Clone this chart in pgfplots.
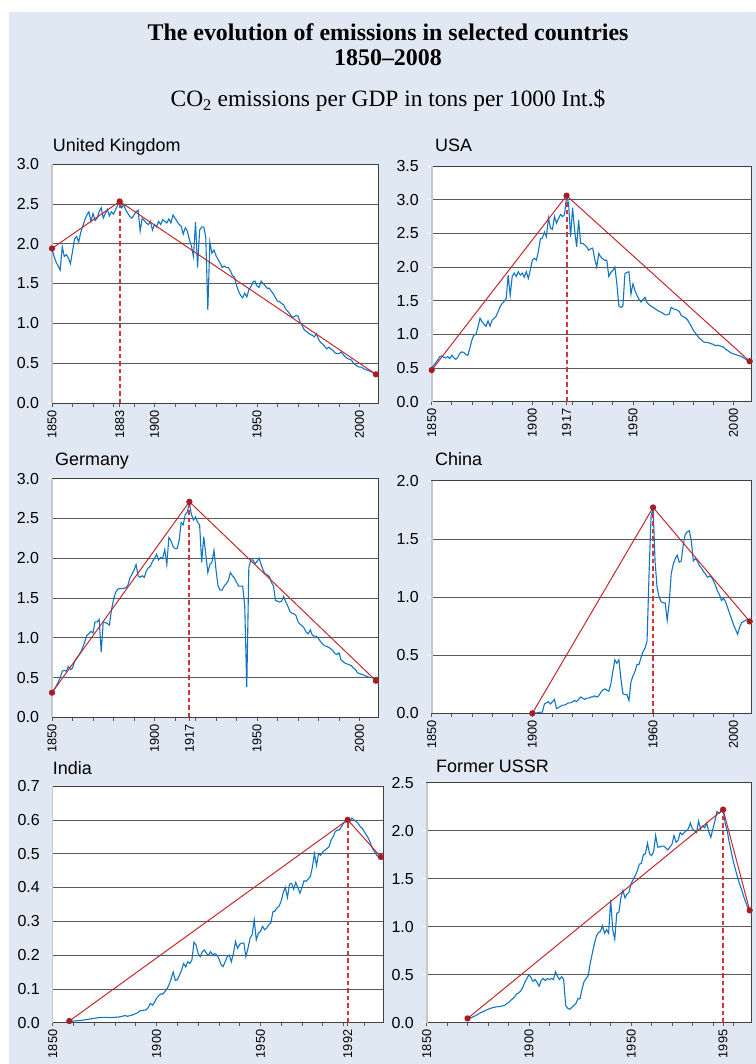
\documentclass[border=0pt]{standalone}
\usepackage{fontspec}
\setmainfont{Liberation Sans}
\newfontfamily\seriffont{Liberation Serif}
\usepackage{pgfplots}
\pgfplotsset{compat=1.18}
\definecolor{bg}{RGB}{224,232,244}
\definecolor{lineblue}{RGB}{16,117,195}
\definecolor{linered}{RGB}{196,40,46}
\definecolor{dotred}{RGB}{165,30,35}
\definecolor{dashred}{RGB}{214,52,58}
\definecolor{axisgray}{RGB}{200,200,200}
\pgfplotsset{
  panel/.style={
    scale only axis,
    xmin=1850, xmax=2009, ymin=0,
    axis background/.style={fill=white},
    axis line style={draw=black!75, line width=0.7pt},
    tick align=outside,
    xtick pos=bottom, ytick pos=left,
    major tick length=3.5bp, minor tick length=3.5bp,
    xtick style={draw=black!65, line width=0.7pt},
    ytick style={draw=white, line width=1pt},
    minor xtick={1850,1860,...,2000},
    ymajorgrids,
    major grid style={draw=black!65, line width=0.6pt},
    /pgf/number format/assume math mode=true,
    xticklabel style={rotate=90, anchor=east, font=\fontsize{12.8}{13}\selectfont},
    yticklabel style={xshift=-6bp, font=\fontsize{16}{16}\selectfont, /pgf/number format/.cd, fixed, fixed zerofill, precision=1},
    clip=false,
  },
  blueline/.style={draw=lineblue, line width=1.1pt, no markers},
  redline/.style={draw=linered, line width=1.0pt, mark=*, mark size=2.6bp, mark options={draw=dotred, fill=dotred}},
}
\newcommand{\leftgray}{\draw[draw=axisgray, line width=1.6pt] (rel axis cs:0,0) -- (rel axis cs:0,1);}
\newcommand{\peakline}[2]{\addplot[color=dashred, solid, line width=2bp, dash pattern=on 4.5bp off 3bp, mark=none] coordinates {(#1,0) (#1,#2)};}
\begin{document}
\begin{tikzpicture}
\fill[white] (0,0) rectangle (756bp,-1064bp);
\fill[bg] (9bp,-12bp) rectangle (756bp,-1064bp);
\node[anchor=base, font=\seriffont\bfseries\fontsize{24}{26}\selectfont] at (388bp,-40bp) {The evolution of emissions in selected countries};
\node[anchor=base, font=\seriffont\bfseries\fontsize{24}{26}\selectfont] at (388bp,-65.5bp) {1850–2008};
\node[anchor=base, font=\seriffont\fontsize{23.5}{25}\selectfont] at (388bp,-106.7bp) {CO\textsubscript{2} emissions per GDP in tons per 1000 Int.\$};
\node[anchor=base west, inner sep=0pt, font=\fontsize{18}{19}\selectfont] at (52.7bp,-151.7bp) {United Kingdom};
\node[anchor=base west, inner sep=0pt, font=\fontsize{18}{19}\selectfont] at (435bp,-151.7bp) {USA};
\node[anchor=base west, inner sep=0pt, font=\fontsize{18}{19}\selectfont] at (55bp,-465bp) {Germany};
\node[anchor=base west, inner sep=0pt, font=\fontsize{18}{19}\selectfont] at (435bp,-465bp) {China};
\node[anchor=base west, inner sep=0pt, font=\fontsize{18}{19}\selectfont] at (52.7bp,-774bp) {India};
\node[anchor=base west, inner sep=0pt, font=\fontsize{18}{19}\selectfont] at (436bp,-772bp) {Former USSR};

% United Kingdom
\begin{axis}[panel, at={(52bp,-403bp)}, anchor=south west, width=326bp, height=239bp,
  ymax=3.0, ytick={0,0.5,...,3.0},
  xtick={1850,1883,1900,1950,2000}, xticklabels={1850,1883,1900,1950,2000}]
\leftgray
\addplot[blueline] coordinates {(1850,1.94)(1851,1.84)(1852,1.77)(1853,1.72)(1854,1.67)(1855,1.96)(1856,1.84)(1857,1.86)(1858,1.82)(1859,1.75)(1860,1.90)(1861,2.06)(1862,2.09)(1863,2.02)(1864,2.14)(1865,2.22)(1866,2.30)(1867,2.36)(1868,2.40)(1869,2.28)(1870,2.38)(1871,2.29)(1872,2.32)(1873,2.40)(1874,2.45)(1875,2.32)(1876,2.38)(1877,2.43)(1878,2.35)(1879,2.40)(1880,2.37)(1881,2.43)(1882,2.48)(1883,2.54)(1884,2.45)(1885,2.49)(1886,2.42)(1887,2.38)(1888,2.34)(1889,2.32)(1890,2.36)(1891,2.40)(1892,2.42)(1893,2.16)(1894,2.32)(1895,2.29)(1896,2.26)(1897,2.24)(1898,2.28)(1899,2.17)(1900,2.24)(1901,2.21)(1902,2.28)(1903,2.24)(1904,2.30)(1905,2.28)(1906,2.26)(1907,2.31)(1908,2.26)(1909,2.36)(1910,2.32)(1911,2.28)(1912,2.24)(1913,2.22)(1914,2.12)(1915,2.20)(1916,2.16)(1917,2.05)(1918,1.97)(1919,1.84)(1920,2.27)(1921,1.70)(1922,2.17)(1923,2.21)(1924,2.21)(1925,2.08)(1926,1.17)(1927,2.02)(1928,1.88)(1929,1.92)(1930,1.85)(1931,1.80)(1932,1.76)(1933,1.70)(1934,1.72)(1935,1.70)(1936,1.70)(1937,1.66)(1938,1.60)(1939,1.58)(1940,1.48)(1941,1.40)(1942,1.35)(1943,1.32)(1944,1.38)(1945,1.33)(1946,1.42)(1947,1.46)(1948,1.52)(1949,1.53)(1950,1.47)(1951,1.45)(1952,1.53)(1953,1.50)(1954,1.47)(1955,1.44)(1956,1.44)(1957,1.40)(1958,1.37)(1959,1.32)(1960,1.28)(1961,1.27)(1962,1.25)(1963,1.23)(1964,1.18)(1965,1.15)(1966,1.12)(1967,1.08)(1968,1.08)(1969,1.10)(1970,1.09)(1971,1.02)(1972,0.97)(1973,0.92)(1974,0.90)(1975,0.88)(1976,0.86)(1977,0.85)(1978,0.83)(1979,0.87)(1980,0.80)(1981,0.76)(1982,0.74)(1983,0.71)(1984,0.68)(1985,0.70)(1986,0.68)(1987,0.66)(1988,0.63)(1989,0.62)(1990,0.62)(1991,0.64)(1992,0.61)(1993,0.58)(1994,0.56)(1995,0.55)(1996,0.54)(1997,0.50)(1998,0.48)(1999,0.46)(2000,0.45)(2001,0.45)(2002,0.43)(2003,0.42)(2004,0.41)(2005,0.40)(2006,0.39)(2007,0.37)(2008,0.36)};
\peakline{1883}{2.53}
\addplot[redline] coordinates {(1850,1.94) (1883,2.53) (2008,0.36)};
\end{axis}

% USA
\begin{axis}[panel, at={(431.7bp,-401.7bp)}, anchor=south west, width=320bp, height=235.7bp,
  ymax=3.5, ytick={0,0.5,...,3.5},
  xtick={1850,1900,1917,1950,2000}, xticklabels={1850,1900,1917,1950,2000}]
\leftgray
\addplot[blueline] coordinates {(1850,0.50)(1851,0.54)(1852,0.58)(1853,0.62)(1854,0.67)(1855,0.68)(1856,0.66)(1857,0.65)(1858,0.67)(1859,0.64)(1860,0.69)(1861,0.65)(1862,0.63)(1863,0.66)(1864,0.72)(1865,0.74)(1866,0.73)(1867,0.70)(1868,0.69)(1869,0.80)(1870,0.92)(1871,0.99)(1872,1.00)(1873,1.11)(1874,1.24)(1875,1.19)(1876,1.15)(1877,1.12)(1878,1.20)(1879,1.12)(1880,1.21)(1881,1.24)(1882,1.27)(1883,1.34)(1884,1.41)(1885,1.46)(1886,1.49)(1887,1.53)(1888,1.88)(1889,1.58)(1890,1.86)(1891,1.91)(1892,1.86)(1893,1.93)(1894,1.88)(1895,1.91)(1896,1.85)(1897,1.93)(1898,1.83)(1899,1.96)(1900,2.10)(1901,2.13)(1902,2.10)(1903,2.23)(1904,2.42)(1905,2.43)(1906,2.52)(1907,2.45)(1908,2.73)(1909,2.58)(1910,2.56)(1911,2.75)(1912,2.65)(1913,2.72)(1914,2.78)(1915,2.75)(1916,2.78)(1917,3.05)(1918,2.95)(1919,2.45)(1920,2.88)(1921,2.55)(1922,2.30)(1923,2.70)(1924,2.35)(1925,2.35)(1926,2.33)(1927,2.30)(1928,2.25)(1929,2.27)(1930,2.28)(1931,2.12)(1932,2.00)(1933,2.20)(1934,2.15)(1935,2.12)(1936,2.10)(1937,2.10)(1938,1.86)(1939,1.92)(1940,1.95)(1941,2.00)(1942,1.75)(1943,1.42)(1944,1.40)(1945,1.42)(1946,1.90)(1947,1.92)(1948,1.93)(1949,1.60)(1950,1.75)(1951,1.65)(1952,1.58)(1953,1.52)(1954,1.48)(1955,1.52)(1956,1.55)(1957,1.47)(1958,1.44)(1959,1.42)(1960,1.40)(1961,1.38)(1962,1.36)(1963,1.34)(1964,1.33)(1965,1.31)(1966,1.29)(1967,1.29)(1968,1.30)(1969,1.40)(1970,1.38)(1971,1.37)(1972,1.36)(1973,1.34)(1974,1.28)(1975,1.26)(1976,1.25)(1977,1.22)(1978,1.17)(1979,1.12)(1980,1.06)(1981,1.02)(1982,0.98)(1983,0.94)(1984,0.92)(1985,0.89)(1986,0.88)(1987,0.88)(1988,0.87)(1989,0.86)(1990,0.85)(1991,0.83)(1992,0.84)(1993,0.83)(1994,0.82)(1995,0.81)(1996,0.78)(1997,0.76)(1998,0.74)(1999,0.72)(2000,0.71)(2001,0.70)(2002,0.69)(2003,0.68)(2004,0.67)(2005,0.65)(2006,0.63)(2007,0.61)(2008,0.60)};
\peakline{1917}{3.06}
\addplot[redline] coordinates {(1850,0.47) (1917,3.06) (2008,0.60)};
\end{axis}

% Germany
\begin{axis}[panel, at={(52bp,-717.3bp)}, anchor=south west, width=326bp, height=238.6bp,
  ymax=3.0, ytick={0,0.5,...,3.0},
  xtick={1850,1900,1917,1950,2000}, xticklabels={1850,1900,1917,1950,2000}]
\leftgray
\addplot[blueline] coordinates {(1850,0.31)(1851,0.35)(1852,0.39)(1853,0.44)(1854,0.50)(1855,0.58)(1856,0.59)(1857,0.58)(1858,0.64)(1859,0.60)(1860,0.62)(1861,0.70)(1862,0.74)(1863,0.78)(1864,0.82)(1865,0.88)(1866,0.95)(1867,1.03)(1868,1.05)(1869,1.08)(1870,1.06)(1871,1.20)(1872,1.20)(1873,1.23)(1874,0.82)(1875,1.20)(1876,1.19)(1877,1.18)(1878,1.16)(1879,1.35)(1880,1.48)(1881,1.57)(1882,1.61)(1883,1.62)(1884,1.62)(1885,1.62)(1886,1.63)(1887,1.66)(1888,1.75)(1889,1.80)(1890,1.85)(1891,1.92)(1892,1.78)(1893,1.76)(1894,1.78)(1895,1.76)(1896,1.84)(1897,1.88)(1898,1.90)(1899,1.96)(1900,2.00)(1901,2.05)(1902,1.98)(1903,2.01)(1904,2.00)(1905,2.11)(1906,1.92)(1907,2.26)(1908,2.22)(1909,2.15)(1910,2.12)(1911,2.12)(1912,2.22)(1913,2.45)(1914,2.42)(1915,2.55)(1916,2.58)(1917,2.70)(1918,2.55)(1919,2.48)(1920,2.52)(1921,2.45)(1922,2.42)(1923,1.95)(1924,2.27)(1925,2.05)(1926,1.82)(1927,1.92)(1928,1.95)(1929,2.10)(1930,1.85)(1931,1.65)(1932,1.60)(1933,1.60)(1934,1.65)(1935,1.68)(1936,1.72)(1937,1.82)(1938,1.78)(1939,1.75)(1940,1.70)(1941,1.65)(1942,1.65)(1943,1.65)(1944,1.40)(1945,0.38)(1946,1.88)(1947,1.98)(1948,1.98)(1949,1.93)(1950,1.96)(1951,2.00)(1952,1.92)(1953,1.85)(1954,1.80)(1955,1.79)(1956,1.77)(1957,1.70)(1958,1.65)(1959,1.47)(1960,1.46)(1961,1.45)(1962,1.46)(1963,1.52)(1964,1.45)(1965,1.40)(1966,1.33)(1967,1.31)(1968,1.30)(1969,1.28)(1970,1.20)(1971,1.17)(1972,1.15)(1973,1.12)(1974,1.07)(1975,1.05)(1976,1.10)(1977,1.03)(1978,1.02)(1979,1.02)(1980,0.99)(1981,0.95)(1982,0.92)(1983,0.90)(1984,0.89)(1985,0.88)(1986,0.86)(1987,0.84)(1988,0.80)(1989,0.79)(1990,0.81)(1991,0.72)(1992,0.70)(1993,0.68)(1994,0.67)(1995,0.66)(1996,0.65)(1997,0.62)(1998,0.60)(1999,0.56)(2000,0.55)(2001,0.54)(2002,0.53)(2003,0.52)(2004,0.51)(2005,0.50)(2006,0.50)(2007,0.49)(2008,0.46)};
\peakline{1917}{2.71}
\addplot[redline] coordinates {(1850,0.31) (1917,2.71) (2008,0.46)};
\end{axis}

% China
\begin{axis}[panel, at={(431.7bp,-713.3bp)}, anchor=south west, width=320bp, height=232.6bp,
  ymax=2.0, ytick={0,0.5,...,2.0},
  xtick={1850,1900,1960,2000}, xticklabels={1850,1900,1960,2000}]
\leftgray
\addplot[blueline] coordinates {(1900,0.0)(1903,0.005)(1904,0.01)(1905,0.01)(1906,0.08)(1907,0.09)(1908,0.10)(1909,0.08)(1910,0.10)(1911,0.12)(1912,0.04)(1913,0.05)(1914,0.06)(1915,0.07)(1916,0.07)(1917,0.08)(1918,0.09)(1919,0.09)(1920,0.10)(1921,0.11)(1922,0.10)(1923,0.12)(1924,0.14)(1925,0.13)(1926,0.12)(1927,0.13)(1928,0.13)(1929,0.14)(1930,0.14)(1931,0.15)(1932,0.14)(1933,0.15)(1934,0.18)(1935,0.20)(1936,0.21)(1937,0.20)(1938,0.19)(1939,0.25)(1940,0.36)(1941,0.46)(1942,0.43)(1943,0.46)(1944,0.30)(1945,0.17)(1946,0.16)(1947,0.16)(1948,0.11)(1949,0.27)(1950,0.32)(1951,0.36)(1952,0.42)(1953,0.42)(1954,0.48)(1955,0.53)(1956,0.56)(1957,0.62)(1958,1.20)(1959,1.70)(1960,1.76)(1961,1.30)(1962,1.08)(1963,1.00)(1964,0.96)(1965,0.95)(1966,0.95)(1967,0.80)(1968,0.95)(1969,1.20)(1970,1.28)(1971,1.33)(1972,1.36)(1973,1.30)(1974,1.31)(1975,1.45)(1976,1.54)(1977,1.56)(1978,1.57)(1979,1.48)(1980,1.31)(1981,1.33)(1982,1.31)(1983,1.27)(1984,1.25)(1985,1.22)(1986,1.20)(1987,1.17)(1988,1.18)(1989,1.17)(1990,1.14)(1991,1.10)(1992,1.05)(1993,1.02)(1994,0.97)(1995,0.99)(1996,0.96)(1997,0.91)(1998,0.86)(1999,0.81)(2000,0.76)(2001,0.72)(2002,0.68)(2003,0.74)(2004,0.78)(2005,0.79)(2006,0.80)(2007,0.81)(2008,0.79)};
\peakline{1960}{1.77}
\addplot[redline] coordinates {(1900,0) (1960,1.77) (2008,0.79)};
\end{axis}

% India
\begin{axis}[panel, at={(52.7bp,-1022.7bp)}, anchor=south west, width=330.3bp, height=236.7bp,
  ymax=0.7, ytick={0,0.1,...,0.7},
  xtick={1850,1900,1950,1992}, xticklabels={1850,1900,1950,1992}]
\leftgray
\addplot[blueline] coordinates {(1858,0.005)(1860,0.005)(1862,0.006)(1864,0.007)(1866,0.009)(1868,0.011)(1870,0.013)(1872,0.015)(1874,0.016)(1876,0.016)(1878,0.015)(1880,0.016)(1882,0.017)(1884,0.020)(1885,0.021)(1886,0.019)(1888,0.022)(1890,0.027)(1891,0.030)(1892,0.035)(1893,0.036)(1894,0.037)(1895,0.038)(1896,0.045)(1897,0.057)(1898,0.052)(1899,0.060)(1900,0.072)(1901,0.080)(1902,0.085)(1903,0.085)(1904,0.092)(1905,0.100)(1906,0.112)(1907,0.130)(1908,0.150)(1909,0.125)(1910,0.127)(1911,0.140)(1912,0.155)(1913,0.175)(1914,0.165)(1915,0.180)(1916,0.175)(1917,0.185)(1918,0.238)(1919,0.230)(1920,0.205)(1921,0.195)(1922,0.210)(1923,0.215)(1924,0.205)(1925,0.200)(1926,0.210)(1927,0.200)(1928,0.205)(1929,0.200)(1930,0.190)(1931,0.172)(1932,0.166)(1933,0.180)(1934,0.195)(1935,0.200)(1936,0.180)(1937,0.205)(1938,0.240)(1939,0.220)(1940,0.232)(1941,0.235)(1942,0.236)(1943,0.195)(1944,0.220)(1945,0.250)(1946,0.260)(1947,0.304)(1948,0.245)(1949,0.265)(1950,0.270)(1951,0.285)(1952,0.275)(1953,0.280)(1954,0.290)(1955,0.295)(1956,0.328)(1957,0.330)(1958,0.340)(1959,0.345)(1960,0.360)(1961,0.385)(1962,0.400)(1963,0.370)(1964,0.410)(1965,0.412)(1966,0.395)(1967,0.415)(1968,0.400)(1969,0.383)(1970,0.400)(1971,0.420)(1972,0.418)(1973,0.425)(1974,0.432)(1975,0.460)(1976,0.500)(1977,0.465)(1978,0.500)(1979,0.495)(1980,0.505)(1981,0.510)(1982,0.515)(1983,0.520)(1984,0.540)(1985,0.550)(1986,0.565)(1987,0.570)(1988,0.570)(1989,0.580)(1990,0.590)(1991,0.595)(1992,0.600)(1993,0.595)(1994,0.605)(1995,0.600)(1996,0.595)(1997,0.590)(1998,0.580)(1999,0.575)(2000,0.565)(2001,0.555)(2002,0.545)(2003,0.530)(2004,0.515)(2005,0.505)(2006,0.495)(2007,0.490)(2008,0.490)};
\peakline{1992}{0.60}
\addplot[redline] coordinates {(1858,0.005) (1992,0.60) (2008,0.49)};
\end{axis}

% Former USSR
\begin{axis}[panel, at={(426.7bp,-1022.7bp)}, anchor=south west, width=325bp, height=240bp,
  ymax=2.5, ytick={0,0.5,...,2.5},
  xtick={1850,1900,1950,1995}, xticklabels={1850,1900,1950,1995}]
\leftgray
\addplot[blueline] coordinates {(1870,0.045)(1872,0.055)(1874,0.075)(1876,0.100)(1878,0.120)(1880,0.140)(1882,0.155)(1884,0.165)(1886,0.170)(1888,0.180)(1890,0.210)(1891,0.230)(1892,0.250)(1893,0.270)(1894,0.300)(1895,0.310)(1896,0.330)(1897,0.370)(1898,0.420)(1899,0.460)(1900,0.500)(1901,0.470)(1902,0.430)(1903,0.450)(1904,0.420)(1905,0.380)(1906,0.440)(1907,0.460)(1908,0.440)(1909,0.460)(1910,0.450)(1911,0.460)(1912,0.450)(1913,0.530)(1914,0.480)(1915,0.450)(1916,0.480)(1917,0.450)(1918,0.180)(1919,0.150)(1920,0.140)(1921,0.160)(1922,0.180)(1923,0.200)(1924,0.250)(1925,0.250)(1926,0.350)(1927,0.430)(1928,0.460)(1929,0.490)(1930,0.620)(1931,0.720)(1932,0.820)(1933,0.900)(1934,0.940)(1935,0.950)(1936,1.010)(1937,0.930)(1938,0.970)(1939,0.930)(1940,1.280)(1941,0.970)(1942,0.870)(1943,1.140)(1944,1.150)(1945,1.300)(1946,1.380)(1947,1.300)(1948,1.340)(1949,1.360)(1950,1.450)(1951,1.490)(1952,1.530)(1953,1.580)(1954,1.650)(1955,1.660)(1956,1.750)(1957,1.760)(1958,1.870)(1959,1.760)(1960,1.740)(1961,1.780)(1962,1.950)(1963,1.830)(1964,1.830)(1965,1.840)(1966,1.840)(1967,1.820)(1968,1.800)(1969,1.830)(1970,1.860)(1971,1.950)(1972,1.880)(1973,1.900)(1974,1.980)(1975,1.960)(1976,1.980)(1977,2.000)(1978,2.020)(1979,2.080)(1980,2.020)(1981,2.000)(1982,1.980)(1983,2.100)(1984,2.020)(1985,2.050)(1986,2.030)(1987,2.080)(1988,1.990)(1989,1.930)(1990,2.020)(1991,2.100)(1992,2.200)(1993,2.180)(1994,2.200)(1995,2.220)(1996,2.080)(1997,2.000)(1998,1.880)(1999,1.780)(2000,1.680)(2001,1.600)(2002,1.520)(2003,1.450)(2004,1.390)(2005,1.320)(2006,1.260)(2007,1.200)(2008,1.170)};
\peakline{1995}{2.22}
\addplot[redline] coordinates {(1870,0.045) (1995,2.22) (2008,1.17)};
\end{axis}
\pgfresetboundingbox
\path[use as bounding box] (0,0) rectangle (756bp,-1064bp);
\end{tikzpicture}
\end{document}
